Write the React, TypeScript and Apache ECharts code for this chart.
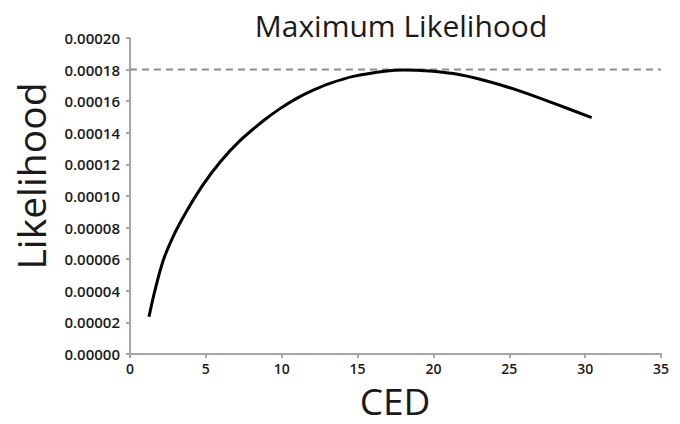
import React, { useEffect, useRef } from "react";
import * as echarts from "echarts";

const ced = [1.25, 1.65, 2.2, 2.85, 3.74, 4.83, 5.93, 7.25, 8.79, 9.89, 10.99, 12.08, 13.18, 14.72, 16.92, 18.0, 19.12, 21.31, 23.51, 25.71, 27.9, 30.43];
const likelihood = [2.36e-5, 4.05e-5, 5.95e-5, 7.45e-5, 9.05e-5, 1.073e-4, 1.214e-4, 1.35e-4, 1.476e-4, 1.553e-4, 1.618e-4, 1.67e-4, 1.713e-4, 1.757e-4, 1.791e-4, 1.797e-4, 1.795e-4, 1.775e-4, 1.728e-4, 1.664e-4, 1.588e-4, 1.496e-4];
const maxLikelihood = 0.00018;
const xTicks = { min: 0, max: 35, interval: 5 };
const yTicks = { min: 0, max: 0.0002, interval: 0.00002 };

const FONT = "Open Sans";

export default function App() {
  const ref = useRef<HTMLDivElement>(null);
  useEffect(() => {
    if (!ref.current) return;
    const chart = echarts.init(ref.current, null, { renderer: "svg" });
    chart.setOption({
      animation: false,
      backgroundColor: "#ffffff",
      title: {
        text: "Maximum Likelihood",
        left: 396,
        textAlign: "center",
        top: 5,
        textStyle: { fontFamily: FONT, fontSize: 30, fontWeight: "normal", color: "#1a1a1a" },
      },
      graphic: [
        {
          type: "text",
          x: 30,
          y: 176,
          rotation: Math.PI / 2,
          style: {
            text: "Likelihood",
            fontFamily: FONT,
            fontSize: 39,
            lineHeight: 42,
            fill: "#1a1a1a",
            textAlign: "center",
            textVerticalAlign: "middle",
          },
        },
        {
          type: "text",
          x: 395,
          y: 400,
          style: {
            text: "CED",
            fontFamily: FONT,
            fontSize: 37,
            lineHeight: 37,
            fill: "#1a1a1a",
            textAlign: "center",
            textVerticalAlign: "middle",
          },
        },
      ],
      grid: { left: 130, right: 19, top: 38, bottom: 70, containLabel: false, outerBoundsMode: "none" },
      xAxis: {
        type: "value",
        min: xTicks.min,
        max: xTicks.max,
        interval: xTicks.interval,
        axisLine: { lineStyle: { color: "#a6a6a6", width: 2 } },
        axisTick: { show: true, length: 4, lineStyle: { color: "#a6a6a6", width: 2 } },
        axisLabel: { fontFamily: FONT, fontSize: 14, fontWeight: 600, color: "#1a1a1a", margin: 7 },
        splitLine: { show: false },
      },
      yAxis: {
        type: "value",
        min: yTicks.min,
        max: yTicks.max,
        interval: yTicks.interval,
        axisLine: { show: true, lineStyle: { color: "#a6a6a6", width: 2 } },
        axisTick: { show: true, length: 4, lineStyle: { color: "#a6a6a6", width: 2 } },
        axisLabel: {
          fontFamily: FONT,
          fontSize: 15,
          fontWeight: 600,
          color: "#1a1a1a",
          margin: 10,
          formatter: (v: number) => v.toFixed(5),
        },
        splitLine: { show: false },
      },
      series: [
        {
          type: "line",
          data: [[xTicks.min, maxLikelihood], [xTicks.max, maxLikelihood]],
          showSymbol: false,
          silent: true,
          lineStyle: { color: "#8c8c8c", type: [7, 5], width: 2 },
        },
        {
          type: "line",
          data: ced.map((x, i) => [x, likelihood[i]]),
          smooth: 0.35,
          showSymbol: false,
          lineStyle: { color: "#000000", width: 3 },
        },
      ],
    });
    return () => chart.dispose();
  }, []);
  return (
    <div
      ref={ref}
      style={{ position: "fixed", left: 0, top: 0, width: 680, height: 424 }}
    />
  );
}
